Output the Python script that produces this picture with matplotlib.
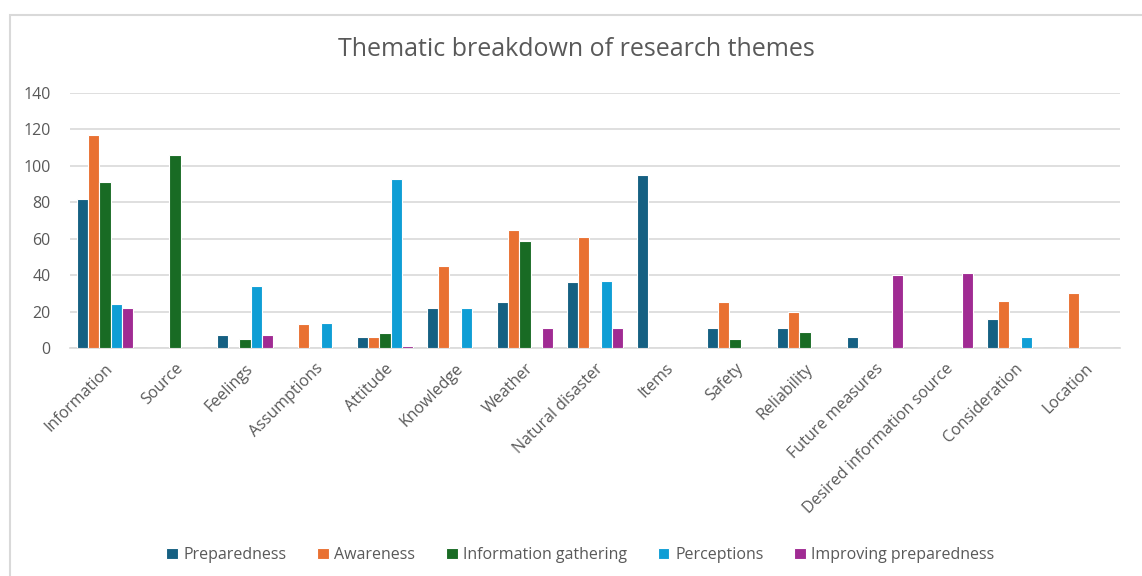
import matplotlib
matplotlib.use("Agg")
import matplotlib.pyplot as plt
from matplotlib.patches import Rectangle
import numpy as np

categories = ["Information", "Source", "Feelings", "Assumptions", "Attitude",
              "Knowledge", "Weather", "Natural disaster", "Items", "Safety",
              "Reliability", "Future measures", "Desired information source",
              "Consideration", "Location"]

series_names = ["Preparedness", "Awareness", "Information gathering",
                "Perceptions", "Improving preparedness"]

preparedness = [82, 0, 7, 0, 6, 22, 25, 36, 95, 11, 11, 6, 0, 16, 0]
awareness = [117, 0, 0, 13, 6, 45, 65, 61, 0, 25, 20, 0, 0, 26, 30]
information_gathering = [91, 106, 5, 0, 8, 0, 59, 0, 0, 5, 9, 0, 0, 0, 0]
perceptions = [24, 0, 34, 14, 93, 22, 0, 37, 0, 0, 0, 0, 0, 6, 0]
improving_preparedness = [22, 0, 7, 0, 1, 0, 11, 11, 0, 0, 0, 40, 41, 0, 0]

y_ticks = [0, 20, 40, 60, 80, 100, 120, 140]

colors = ["#156082", "#E97132", "#196B24", "#0F9ED5", "#A02B93"]
text_color = "#595959"
grid_color = "#D9D9D9"

plt.rcParams["font.family"] = ["Open Sans", "DejaVu Sans"]

W, H = 1142, 576
fig = plt.figure(figsize=(W / 100, H / 100), dpi=100)
fig.patch.set_facecolor("white")

# chart frame
fig.patches.append(Rectangle((10 / W, -0.1), 1.2, 1 - 15 / H + 0.1,
                             transform=fig.transFigure, fill=False,
                             edgecolor=grid_color, linewidth=1.5))

ax = fig.add_axes([70 / W, 1 - 348 / H, 1050 / W, 255 / H])

all_series = [preparedness, awareness, information_gathering, perceptions,
              improving_preparedness]
x = np.arange(len(categories))
n = len(all_series)
step = 0.162
for i, (name, vals, col) in enumerate(zip(series_names, all_series, colors)):
    offs = (i - (n - 1) / 2) * step
    ax.bar(x + offs, vals, width=step, color=col, edgecolor="white",
           linewidth=0.8, label=name, zorder=3)

ax.set_xlim(-0.5, len(categories) - 0.5)
ax.set_ylim(0, 140)
ax.set_yticks(y_ticks)
ax.set_yticklabels([str(v) for v in y_ticks])
ax.yaxis.grid(True, color=grid_color, linewidth=1.2, zorder=0)
ax.set_axisbelow(True)
for side in ["top", "right", "left"]:
    ax.spines[side].set_visible(False)
ax.spines["bottom"].set_color(grid_color)
ax.spines["bottom"].set_linewidth(1.2)
ax.tick_params(axis="y", length=0, pad=14, labelsize=11.5, labelcolor=text_color)
ax.tick_params(axis="x", length=0, pad=9, labelsize=11.5, labelcolor=text_color)
ax.set_xticks(x)
ax.set_xticklabels(categories, rotation=45, ha="right", rotation_mode="anchor")

fig.text(0.505, 1 - 49 / H, "Thematic breakdown of research themes",
         ha="center", va="center", fontsize=18, color=text_color)

fig.legend(loc="center", bbox_to_anchor=(0.508, 1 - 555 / H), ncol=5,
           frameon=False, fontsize=11.5, labelcolor=text_color,
           handlelength=0.75, handleheight=0.75, handletextpad=0.35,
           columnspacing=1.9)

fig.savefig("out.png", dpi=100)
